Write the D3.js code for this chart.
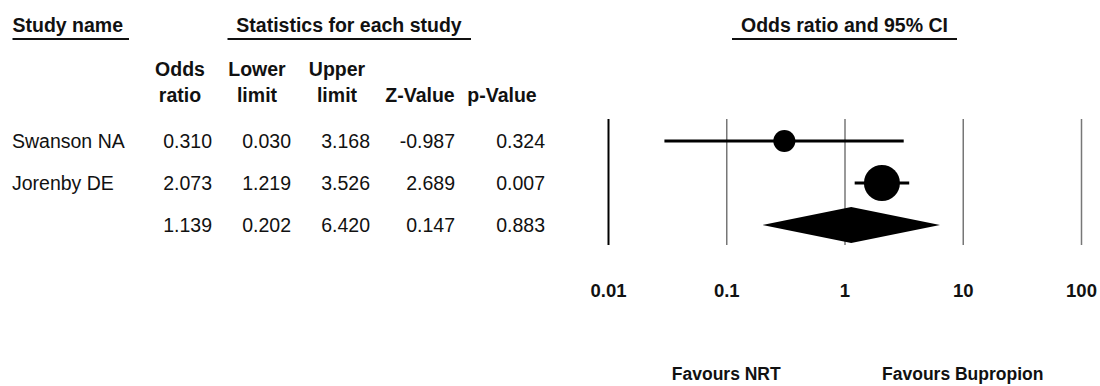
<!DOCTYPE html>
<html>
<head>
<meta charset="utf-8">
<script src="https://cdn.jsdelivr.net/npm/d3@7"></script>
<style>
  body { margin: 0; background: #fff; }
  svg { display: block; }
  text { font-family: "Liberation Sans", Arial, sans-serif; fill: #111; }
  .hd { font-weight: bold; font-size: 19.5px; }
  .cell { font-size: 19.5px; }
  .tick text { font-weight: bold; font-size: 18.5px; }
</style>
</head>
<body>
<div id="chart"></div>
<script>
// study rows (last row is the pooled estimate)
var studyNames = ["Swanson NA", "Jorenby DE", ""];
var oddsRatio = [0.310, 2.073, 1.139];
var lowerLimit = [0.030, 1.219, 0.202];
var upperLimit = [3.168, 3.526, 6.420];
var zValue = [-0.987, 2.689, 0.147];
var pValue = [0.324, 0.007, 0.883];
// relative weight (%)
var relWeight = [27.3, 72.7];

var axisTicks = [0.01, 0.1, 1, 10, 100];
var colHeaders = [["Odds", "ratio"], ["Lower", "limit"], ["Upper", "limit"], ["", "Z-Value"], ["", "p-Value"]];
var sideLabels = ["Favours NRT", "Favours Bupropion"];
var sideAt = [0.1, 10];

var svg = d3.select("#chart").append("svg")
  .attr("width", 1100)
  .attr("height", 386);

// plain hyphen for negatives, like the original table
var fmt = d3.formatLocale({decimal: ".", thousands: ",", grouping: [3], currency: ["", ""], minus: "-"}).format(".3f");

var rows = d3.range(studyNames.length);
var y = d3.scalePoint().domain(rows).range([141, 225]);

var x = d3.scaleLog().domain([0.01, 100]).range([608, 1081]);

var r = d3.scaleSqrt().domain([0, d3.max(relWeight)]).range([0, 18]);

// ---- headers ----
function header(txt, cx, anchor, x1, x2) {
  svg.append("text").attr("class", "hd")
    .attr("x", cx).attr("y", 32)
    .attr("text-anchor", anchor)
    .text(txt);
  svg.append("line")
    .attr("x1", x1).attr("x2", x2)
    .attr("y1", 39).attr("y2", 39)
    .attr("stroke", "#111").attr("stroke-width", 2);
}
header("Study name", 12.5, "start", 12.5, 129);
header("Statistics for each study", 349, "middle", 227.5, 471);
header("Odds ratio and 95% CI", x(1), "middle", 732, 957);

// ---- table ----
var colRight = [212, 291, 370, 455, 545];
var colHeadMid = [180, 257, 337, 420, 502];
var cols = [oddsRatio, lowerLimit, upperLimit, zValue, pValue];

colHeaders.forEach(function(h, i) {
  h.forEach(function(line, j) {
    if (!line) return;
    svg.append("text").attr("class", "hd")
      .attr("x", colHeadMid[i]).attr("y", 76 + j * 26)
      .attr("text-anchor", "middle")
      .text(line);
  });
});

rows.forEach(function(i) {
  svg.append("text").attr("class", "cell")
    .attr("x", 12).attr("y", y(i) + 7)
    .text(studyNames[i]);
  cols.forEach(function(col, c) {
    svg.append("text").attr("class", "cell")
      .attr("x", colRight[c]).attr("y", y(i) + 7)
      .attr("text-anchor", "end")
      .text(fmt(col[i]));
  });
});

// ---- forest plot ----
var axisG = svg.append("g")
  .attr("transform", "translate(0,245)")
  .call(d3.axisBottom(x)
    .tickValues(axisTicks)
    .tickFormat(d3.format("~g"))
    .tickSizeInner(-126)
    .tickSizeOuter(0));

axisG.select(".domain").remove();
axisG.selectAll(".tick line")
  .attr("stroke", function(d) { return d === 0.01 ? "#000" : "#777"; })
  .attr("stroke-width", function(d) { return d === 0.01 ? 2 : 1.5; });
axisG.selectAll(".tick text")
  .attr("y", 52)
  .attr("dy", 0)
  .attr("fill", "#111");

var studies = rows.slice(0, 2);

svg.selectAll(".ci").data(studies).enter().append("line")
  .attr("class", "ci")
  .attr("x1", function(i) { return x(lowerLimit[i]); })
  .attr("x2", function(i) { return x(upperLimit[i]); })
  .attr("y1", function(i) { return y(i); })
  .attr("y2", function(i) { return y(i); })
  .attr("stroke", "#000").attr("stroke-width", 3);

svg.selectAll(".pt").data(studies).enter().append("circle")
  .attr("class", "pt")
  .attr("cx", function(i) { return x(oddsRatio[i]); })
  .attr("cy", function(i) { return y(i); })
  .attr("r", function(i) { return r(relWeight[i]); })
  .attr("fill", "#000");

// pooled diamond
var p = 2;
svg.append("path")
  .attr("d", "M" + x(lowerLimit[p]) + "," + y(p) +
    "L" + x(oddsRatio[p]) + "," + (y(p) - 18) +
    "L" + x(upperLimit[p]) + "," + y(p) +
    "L" + x(oddsRatio[p]) + "," + (y(p) + 18) + "Z")
  .attr("fill", "#000");

// favours labels
sideLabels.forEach(function(t, i) {
  svg.append("text")
    .attr("x", x(sideAt[i])).attr("y", 380)
    .attr("text-anchor", "middle")
    .attr("font-weight", "bold")
    .attr("font-size", "17.5px")
    .text(t);
});
</script>
</body>
</html>
